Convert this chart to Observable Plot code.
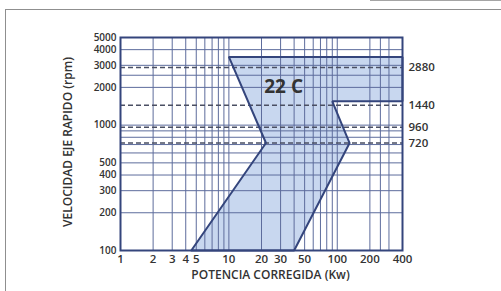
<!DOCTYPE html>
<html><head><meta charset="utf-8">
<script src="https://cdn.jsdelivr.net/npm/d3@7"></script>
<script src="https://cdn.jsdelivr.net/npm/@observablehq/plot@0.6"></script>
<style>
body{margin:0;background:#fff;}
#wrap{position:relative;width:501px;height:291px;overflow:hidden;}
#box{position:absolute;left:5px;top:9px;width:540px;height:320px;border:1.5px solid #8f8f8f;}
#topline{position:absolute;left:370px;top:0;width:140px;height:0;border-top:1.5px solid #a5a5a5;}
#chart{position:absolute;left:0;top:0;}
</style></head><body>
<div id="wrap"><div id="box"></div><div id="topline"></div><div id="chart"></div></div>
<script>
// tick labels and grid values
const xTicks = [1, 2, 3, 4, 5, 10, 20, 30, 50, 100, 200, 400];
const xGrid = [2, 3, 4, 5, 6, 7, 8, 9, 10, 20, 30, 40, 50, 60, 70, 80, 90, 100, 200, 250, 300];
const yTicks = [100, 200, 300, 400, 500, 1000, 2000, 3000, 4000, 5000];
const yGrid = [200, 300, 400, 500, 600, 700, 800, 900, 1000, 2000, 2500, 3000, 4000];
// motor speeds (dashed lines, right labels)
const speeds = [2880, 1440, 960, 720];
// selection zone outline (power kW, speed rpm)
const zonePower = [4.5, 22, 10, 400, 400, 90, 130, 40, 4.5];
const zoneRpm = [100, 720, 3500, 3500, 1550, 1550, 720, 100, 100];
// zone name and where it sits (data units)
const zoneName = ["22 C"];
const zoneNamePower = [32];
const zoneNameRpm = [2000];

const zone = zonePower.map((p, i) => ({power: p, rpm: zoneRpm[i]}));
const names = zoneName.map((n, i) => ({name: n, power: zoneNamePower[i], rpm: zoneNameRpm[i]}));

const chart = Plot.plot({
  width: 501, height: 291,
  marginLeft: 120, marginRight: 99, marginTop: 37, marginBottom: 41,
  x: {type: "log", domain: [1, 400], axis: null},
  y: {type: "log", domain: [100, 5000], axis: null},
  style: {fontFamily: "'Open Sans', sans-serif", fontSize: "11px", fontWeight: 600, color: "#333", background: "transparent"},
  marks: [
    Plot.line(zone, {x: "power", y: "rpm", fill: "#c8d7ef", stroke: "none"}),
    Plot.ruleX(xGrid, {stroke: "#5d6c9c", strokeWidth: 1}),
    Plot.ruleY(yGrid, {stroke: "#5d6c9c", strokeWidth: 1}),
    Plot.ruleY(speeds, {stroke: "#4a4f63", strokeWidth: 1.5, strokeDasharray: "5,3"}),
    Plot.line(zone, {x: "power", y: "rpm", stroke: "#34457c", strokeWidth: 2, strokeLinejoin: "miter"}),
    Plot.frame({stroke: "#34457c", strokeWidth: 2}),
    Plot.text(xTicks, {x: d => d, frameAnchor: "bottom", textAnchor: "middle", lineAnchor: "middle", dy: 9, text: d => String(d), fontSize: 11.5}),
    Plot.text(yTicks, {y: d => d, frameAnchor: "left", textAnchor: "end", lineAnchor: "middle", dx: -4, text: d => String(d), fontSize: 10}),
    Plot.text(speeds, {y: d => d, frameAnchor: "right", dx: 6, textAnchor: "start", lineAnchor: "middle", text: d => String(d), fontSize: 11.5}),
    Plot.text(names, {x: "power", y: "rpm", text: "name", fontSize: 19, fontWeight: 700, fill: "#333"}),
    Plot.text(["POTENCIA CORREGIDA (Kw)"], {frameAnchor: "bottom", textAnchor: "middle", lineAnchor: "middle", dx: 9, dy: 25, fontSize: 12}),
    Plot.text(["VELOCIDAD EJE RAPIDO (rpm)"], {frameAnchor: "left", textAnchor: "middle", lineAnchor: "middle", dx: -52, dy: -2, rotate: -90, fontSize: 12})
  ]
});
document.getElementById("chart").appendChild(chart);
</script>
</body></html>
